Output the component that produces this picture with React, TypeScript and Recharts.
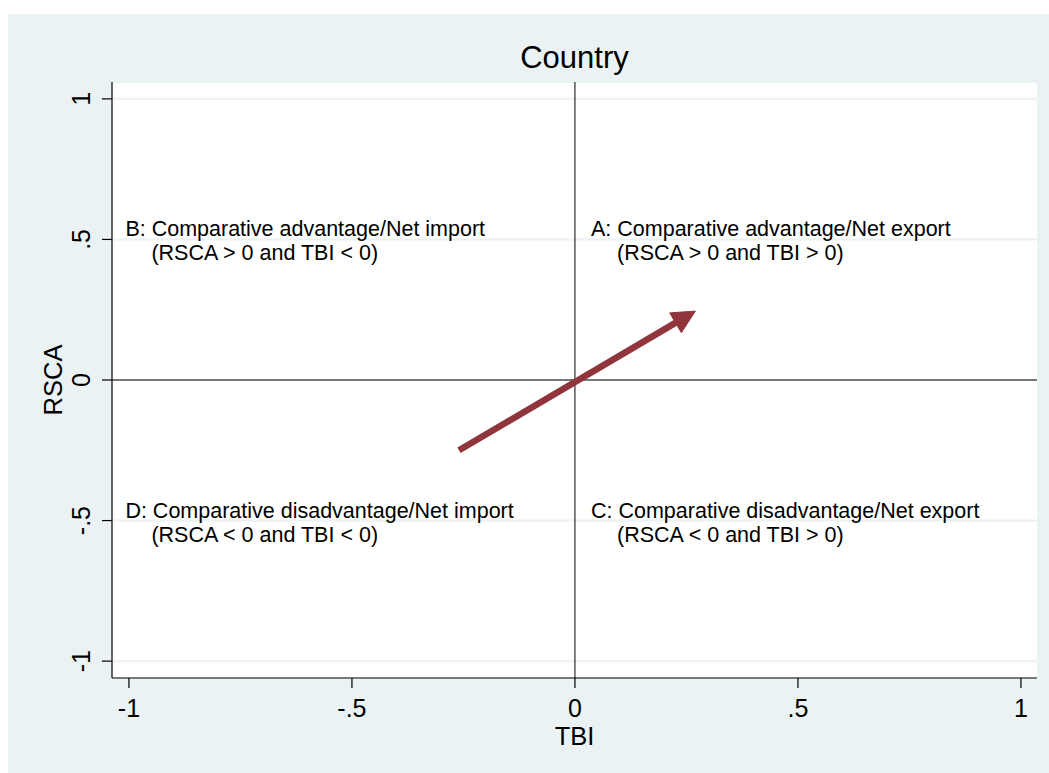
import React from 'react';
import {
  ComposedChart,
  XAxis,
  YAxis,
  CartesianGrid,
  ReferenceLine,
  Scatter,
} from 'recharts';

// ---- data ----
const xTicks = [-1, -0.5, 0, 0.5, 1];
const xTickLabels = ['-1', '-.5', '0', '.5', '1'];
const yTicks = [-1, -0.5, 0, 0.5, 1];
const yTickLabels = ['-1', '-.5', '0', '.5', '1'];

const arrowX = [-0.26, 0.27];
const arrowY = [-0.25, 0.245];

const quadX = [0.036, -1.008, 0.036, -1.008];
const quadY = [0.5, 0.5, -0.5, -0.5];
const quadLine1 = [
  'A: Comparative advantage/Net export',
  'B: Comparative advantage/Net import',
  'C: Comparative disadvantage/Net export',
  'D: Comparative disadvantage/Net import',
];
const quadLine2 = [
  '(RSCA > 0 and TBI > 0)',
  '(RSCA > 0 and TBI < 0)',
  '(RSCA < 0 and TBI > 0)',
  '(RSCA < 0 and TBI < 0)',
];

const chartTitle = 'Country';
const xTitle = 'TBI';
const yTitle = 'RSCA';

const arrowData = arrowX.map((x, i) => ({ x, y: arrowY[i] }));
const quadData = quadX.map((x, i) => ({ x, y: quadY[i], l1: quadLine1[i], l2: quadLine2[i] }));

// ---- styles ----
const FONT = '"Liberation Sans", Arial, Helvetica, sans-serif';
const BG = '#EAF2F3';
const ARROW = '#90353B';
const W = 1041;
const H = 759;

const labelFor = (v: number, ticks: number[], labels: string[]) => {
  const i = ticks.findIndex((t) => Math.abs(t - v) < 1e-9);
  return i >= 0 ? labels[i] : String(v);
};

const XTick = (props: any) => {
  const { x, y, payload } = props;
  return (
    <text x={x} y={y + 27} textAnchor="middle" fontFamily={FONT} fontSize={25} fill="#000">
      {labelFor(payload.value, xTicks, xTickLabels)}
    </text>
  );
};

const YTick = (props: any) => {
  const { x, y, payload } = props;
  const bx = x - 10;
  return (
    <text
      x={bx}
      y={y}
      transform={`rotate(-90, ${bx}, ${y})`}
      textAnchor="middle"
      fontFamily={FONT}
      fontSize={25}
      fill="#000"
    >
      {labelFor(payload.value, yTicks, yTickLabels)}
    </text>
  );
};

const ArrowLine = (props: any) => {
  const pts = props.points || [];
  if (pts.length < 2) return null;
  const p0 = pts[0];
  const p1 = pts[pts.length - 1];
  const dx = p1.x - p0.x;
  const dy = p1.y - p0.y;
  const len = Math.sqrt(dx * dx + dy * dy) || 1;
  const ux = dx / len;
  const uy = dy / len;
  const L = 23;
  const Wd = 11.5;
  const bx = p1.x - ux * L;
  const by = p1.y - uy * L;
  const ex = p1.x - ux * L * 0.6;
  const ey = p1.y - uy * L * 0.6;
  const head = [
    `${p1.x},${p1.y}`,
    `${bx - uy * Wd},${by + ux * Wd}`,
    `${bx + uy * Wd},${by - ux * Wd}`,
  ].join(' ');
  return (
    <g>
      <path d={`M${p0.x},${p0.y}L${ex},${ey}`} stroke={ARROW} strokeWidth={6.5} fill="none" />
      <polygon points={head} fill={ARROW} stroke={ARROW} strokeWidth={1} strokeLinejoin="miter" />
    </g>
  );
};

const QuadText = (props: any) => {
  const { cx, cy, payload } = props;
  if (cx == null || cy == null) return <g />;
  return (
    <g>
      <text x={cx} y={cy - 3} fontFamily={FONT} fontSize={21.5} fill="#000">
        {payload.l1}
      </text>
      <text x={cx + 26} y={cy + 21} fontFamily={FONT} fontSize={21.5} fill="#000">
        {payload.l2}
      </text>
    </g>
  );
};

const XTitle = (props: any) => {
  const vb = props.viewBox || {};
  return (
    <text x={vb.x + vb.width / 2} y={vb.y + 67} textAnchor="middle" fontFamily={FONT} fontSize={25.5} fill="#000">
      {xTitle}
    </text>
  );
};

const YTitle = (props: any) => {
  const vb = props.viewBox || {};
  const tx = vb.x + 54;
  const ty = vb.y + vb.height / 2;
  return (
    <text
      x={tx}
      y={ty}
      transform={`rotate(-90, ${tx}, ${ty})`}
      textAnchor="middle"
      fontFamily={FONT}
      fontSize={25.5}
      fill="#000"
    >
      {yTitle}
    </text>
  );
};

export default function App() {
  return (
    <div style={{ position: 'absolute', left: 8, top: 14, width: W, height: H, background: BG, overflow: 'hidden' }}>
      <ComposedChart width={W} height={H} margin={{ top: 68, right: 12, bottom: 0, left: 0 }}>
        <CartesianGrid vertical={false} horizontal stroke={BG} strokeWidth={2} fill="#FFFFFF" fillOpacity={1} />
        <XAxis
          type="number"
          dataKey="x"
          domain={[-1.038, 1.036]}
          ticks={xTicks}
          allowDataOverflow
          height={95}
          tickSize={10}
          tickMargin={2}
          axisLine={{ stroke: '#000', strokeWidth: 1.2 }}
          tickLine={{ stroke: '#000', strokeWidth: 1.2 }}
          tick={<XTick />}
          interval={0}
          label={{ content: <XTitle /> }}
        />
        <YAxis
          type="number"
          dataKey="y"
          domain={[-1.06, 1.06]}
          ticks={yTicks}
          allowDataOverflow
          width={104}
          tickSize={10}
          tickMargin={2}
          axisLine={{ stroke: '#000', strokeWidth: 1.2 }}
          tickLine={{ stroke: '#000', strokeWidth: 1.2 }}
          tick={<YTick />}
          interval={0}
          label={{ content: <YTitle /> }}
        />
        <ReferenceLine x={0} stroke="#000" strokeWidth={1} ifOverflow="hidden" />
        <ReferenceLine y={0} stroke="#000" strokeWidth={1} ifOverflow="hidden" />
        <Scatter
          data={quadData}
          dataKey="y"
          isAnimationActive={false}
          shape={<QuadText />}
        />
        <Scatter
          data={arrowData}
          dataKey="y"
          isAnimationActive={false}
          fill={ARROW}
          line={(p: any) => <ArrowLine {...p} />}
          lineType="joint"
          shape={() => <g />}
        />
        <text x={104 + (W - 104 - 12) / 2} y={54} textAnchor="middle" fontFamily={FONT} fontSize={31} fill="#000">
          {chartTitle}
        </text>
      </ComposedChart>
    </div>
  );
}
